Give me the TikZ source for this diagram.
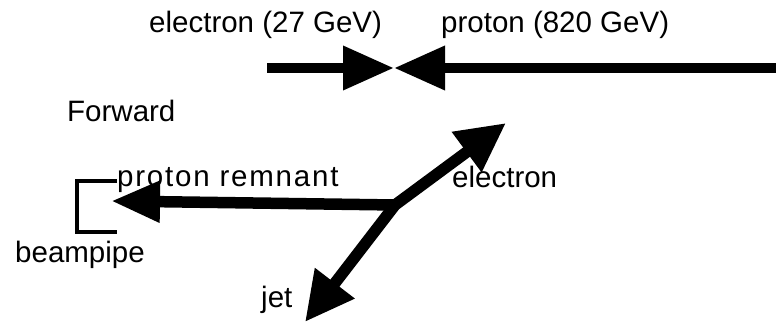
\documentclass[tikz,border=0pt]{standalone}
\usepackage{fontspec}
\setmainfont{Liberation Sans}
\usetikzlibrary{arrows.meta}
\begin{document}
\begin{tikzpicture}[x=1pt,y=-1pt,
  lbl/.style={font=\fontsize{29.5}{34}\selectfont, inner sep=0pt, anchor=base west},
  beam/.style={line width=10pt},
  shaft/.style={line width=11.5pt},
  bighead/.style={-{Triangle[length=51pt,width=42pt]}},
  remhead/.style={-{Triangle[length=49pt,width=39pt]}},
  pipe/.style={line width=3.5pt}]
\useasboundingbox (0,0) rectangle (776,323);
% top beams
\coordinate (eL) at (267,68);
\coordinate (mid) at (394,68);
\coordinate (pR) at (776,68);
\draw[beam,bighead] (eL) -- (mid);
\draw[beam,bighead] (pR) -- (mid);
% interaction
\coordinate (J) at (395,205);
\coordinate (R) at (111,201);
\coordinate (E) at (506,123);
\coordinate (T) at (305,322);
\draw[shaft,{Triangle[length=49pt,width=47pt]}-{Triangle[length=49pt,width=47pt]}] (E) -- (J) -- (T);
\draw[shaft,remhead] (J) -- (R);
% beampipe bracket
\coordinate (b1) at (117,181);
\coordinate (b2) at (77,181);
\coordinate (b3) at (77,232);
\coordinate (b4) at (117,232);
\draw[pipe] (b1) -- (b2) -- (b3) -- (b4);
% labels
\node[lbl] (le) at (149,33) {electron (27 GeV)};
\node[lbl] (lp) at (441,33) {proton (820 GeV)};
\node[lbl] (lf) at (67,122) {Forward};
\node[lbl] (lr) at (117,187) {\addfontfeature{LetterSpace=6}proton remnant};
\node[lbl] (ll) at (452,188) {electron};
\node[lbl] (lb) at (15,262) {beampipe};
\node[lbl] (lj) at (261,307) {jet};
\end{tikzpicture}
\end{document}
